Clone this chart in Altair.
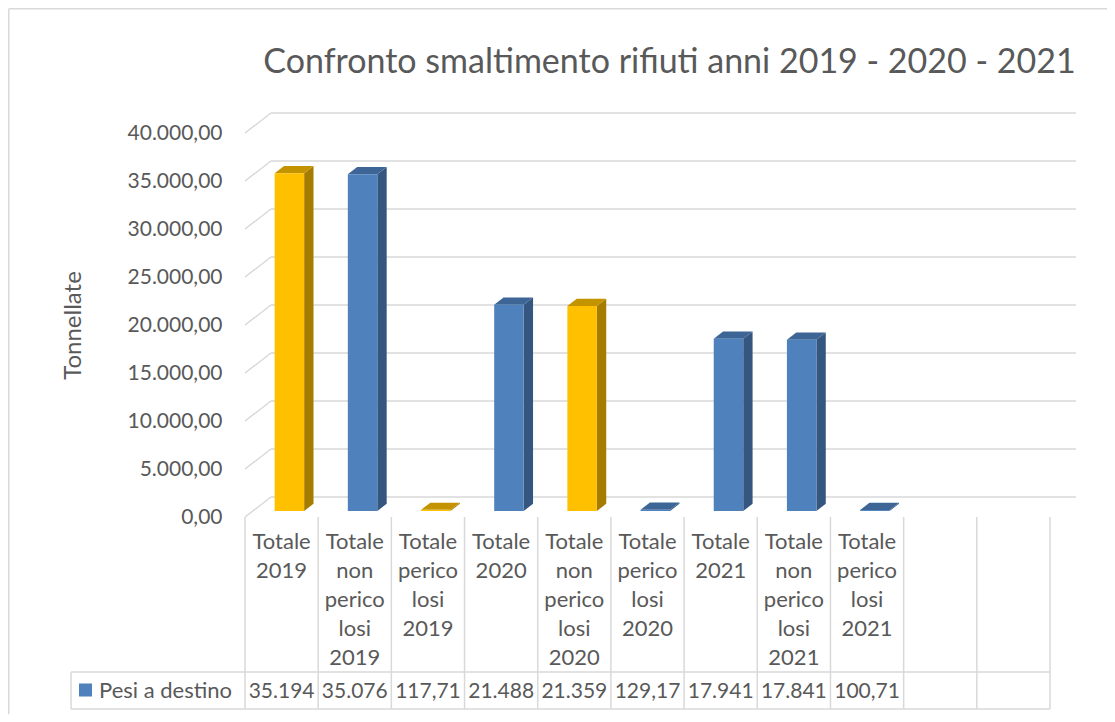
import altair as alt
import pandas as pd

# ---------------- data ----------------
title_text = "Confronto smaltimento rifiuti anni 2019 - 2020 - 2021"
axis_title = "Tonnellate"
series_name = "Pesi a destino"
categories = [
    ["Totale", "2019"],
    ["Totale", "non", "perico", "losi", "2019"],
    ["Totale", "perico", "losi", "2019"],
    ["Totale", "2020"],
    ["Totale", "non", "perico", "losi", "2020"],
    ["Totale", "perico", "losi", "2020"],
    ["Totale", "2021"],
    ["Totale", "non", "perico", "losi", "2021"],
    ["Totale", "perico", "losi", "2021"],
]
values = [35194, 35076, 117.71, 21488, 21359, 129.17, 17941, 17841, 100.71]
tones = ["giallo", "blu", "giallo", "blu", "giallo", "blu", "blu", "blu", "blu"]
n_columns = 11
y_ticks = [0, 5000, 10000, 15000, 20000, 25000, 30000, 35000, 40000]
YMAX = 40000

# ---------------- style ----------------
FONT = "Lato"
TXT = "#595959"
GRID = "#D9D9D9"
front_col = {"giallo": "#FFC000", "blu": "#4F81BD"}
side_col = {"giallo": "#A67C00", "blu": "#34567F"}
top_col = {"giallo": "#C49400", "blu": "#3D6696"}

PLOT_W, PLOT_H = 805, 384
PAD = {"left": 237, "top": 125, "right": 57, "bottom": 197}
ORIGIN_X = 8 + PAD["left"]
ORIGIN_Y = 8 + PAD["top"]
col_px = PLOT_W / n_columns
unit_px = PLOT_H / YMAX


def cx(page_x):
    return (page_x - ORIGIN_X) / col_px


def py(page_y):
    return page_y - ORIGIN_Y


DX = 26 / col_px        # wall depth (x, in column units)
DY = 20 / unit_px       # wall depth (y, in value units)
FRONT = 0.3
DEPTH = 0.36
BW = 29.5 / col_px

XS = alt.Scale(domain=[0, n_columns], nice=False, zero=False)
YS = alt.Scale(domain=[0, YMAX], nice=False, zero=False)

Y_AXIS = alt.Axis(
    values=y_ticks,
    labelExpr="datum.value == 0 ? '0,00' : format(datum.value / 1000, '.3f') + ',00'",
    ticks=False, domain=False, grid=False, labelOverlap=False,
    labelFont=FONT, labelFontSize=21, labelColor=TXT, labelPadding=23,
    title=axis_title, titleFont=FONT, titleFontSize=24, titleFontWeight="normal",
    titleColor=TXT, titleX=-172, titleY=192, titleAngle=270,
    titleAlign="center", titleBaseline="middle",
)


def it_fmt(v):
    if v >= 1000:
        return f"{v:,.0f}".replace(",", ".")
    return f"{v:.2f}".replace(".", ",")


# ---------------- tables ----------------
front_rows, side_rows, top_rows = [], [], []
for i, (v, t) in enumerate(zip(values, tones)):
    c = i + 0.5 + FRONT * DX
    x0, x1 = c - BW / 2, c + BW / 2
    yb, yt = FRONT * DY, v + FRONT * DY
    front_rows.append({"bar": i, "x0": x0, "x1": x1, "yb": yb, "yt": yt, "c": front_col[t]})
    side_rows.append({"bar": i, "x": x1, "y": yb, "y2": yt, "c": side_col[t]})
    side_rows.append({"bar": i, "x": x1 + DEPTH * DX, "y": yb + DEPTH * DY,
                      "y2": yt + DEPTH * DY, "c": side_col[t]})
    top_rows.append({"bar": i, "y": yt, "x": x0, "x2": x1, "c": top_col[t]})
    top_rows.append({"bar": i, "y": yt + DEPTH * DY, "x": x0 + DEPTH * DX,
                     "x2": x1 + DEPTH * DX, "c": top_col[t]})
front_df = pd.DataFrame(front_rows)
side_df = pd.DataFrame(side_rows)
top_df = pd.DataFrame(top_rows)

grid_df = pd.DataFrame({"v": y_ticks})
grid_df["vb"] = grid_df["v"] + DY
grid_df["x0"] = 0.0
grid_df["xa"] = DX
grid_df["xb"] = n_columns + DX

table_df = pd.DataFrame({
    "xc": [i + 0.5 for i in range(len(categories))],
    "label": ["\n".join(c) for c in categories],
    "val": [it_fmt(v) for v in values],
})
cols_df = pd.DataFrame({"xs": list(range(n_columns + 1))})


def one(**kw):
    return pd.DataFrame([kw])


def Y(field, **kw):
    return alt.Y(field, scale=YS, axis=Y_AXIS, **kw)


def X(field, **kw):
    return alt.X(field, scale=XS, axis=None, **kw)


# ---------------- layers ----------------
back_grid = alt.Chart(grid_df).mark_rule(color=GRID, strokeWidth=1.5).encode(
    x=X("xa:Q"), x2="xb:Q", y=Y("vb:Q"),
)
wall_grid = alt.Chart(grid_df).mark_rule(color=GRID, strokeWidth=1.5).encode(
    x=X("x0:Q"), x2="xa:Q", y=Y("v:Q"), y2="vb:Q",
)

sides = alt.Chart(side_df).mark_area(orient="vertical").encode(
    x=X("x:Q"), y=Y("y:Q", stack=None), y2="y2:Q",
    detail="bar:N", color=alt.Color("c:N", scale=None),
)
tops = alt.Chart(top_df).mark_area(orient="horizontal").encode(
    y=Y("y:Q", stack=None), x=X("x:Q", stack=None), x2="x2:Q",
    detail="bar:N", color=alt.Color("c:N", scale=None),
)
fronts = alt.Chart(front_df).mark_rect().encode(
    x=X("x0:Q"), x2="x1:Q", y=Y("yb:Q"), y2="yt:Q",
    color=alt.Color("c:N", scale=None),
)

# data table
line_kw = dict(color=GRID, strokeWidth=1.5)
col_lines = alt.Chart(cols_df).mark_rule(**line_kw).encode(
    x=X("xs:Q"), y=alt.value(py(517)), y2=alt.value(py(709)),
)
row_line = alt.Chart(one(xa=cx(71), xb=n_columns)).mark_rule(**line_kw).encode(
    x=X("xa:Q"), x2="xb:Q", y=alt.value(py(672)),
)
bottom_line = alt.Chart(one(xa=cx(71), xb=n_columns)).mark_rule(**line_kw).encode(
    x=X("xa:Q"), x2="xb:Q", y=alt.value(py(709)),
)
legend_left = alt.Chart(one(xa=cx(71))).mark_rule(**line_kw).encode(
    x=X("xa:Q"), y=alt.value(py(672)), y2=alt.value(py(709)),
)
header_text = alt.Chart(table_df).mark_text(
    font=FONT, fontSize=22, color=TXT, align="center", baseline="alphabetic",
    lineBreak="\n", lineHeight=29,
).encode(
    x=X("xc:Q"), y=alt.value(py(549)), text="label:N",
)
value_text = alt.Chart(table_df).mark_text(
    font=FONT, fontSize=21, color=TXT, align="center", baseline="alphabetic",
).encode(
    x=X("xc:Q"), y=alt.value(py(698)), text="val:N",
)
legend_key = alt.Chart(one(xa=cx(85.5))).mark_square(
    size=169, color=front_col["blu"], opacity=1, filled=True,
).encode(
    x=X("xa:Q"), y=alt.value(py(690)),
)
legend_text = alt.Chart(one(xa=cx(99), t=series_name)).mark_text(
    font=FONT, fontSize=22, color=TXT, align="left", baseline="alphabetic",
).encode(
    x=X("xa:Q"), y=alt.value(py(698)), text="t:N",
)

# chart title and outer frame
title_mark = alt.Chart(one(xa=cx(669.5), t=title_text)).mark_text(
    font=FONT, fontSize=34, color=TXT, align="center", baseline="alphabetic",
).encode(
    x=X("xa:Q"), y=alt.value(py(72.5)), text="t:N",
)
frame_left = alt.Chart(one(xa=cx(8.75))).mark_rule(**line_kw).encode(
    x=X("xa:Q"), y=alt.value(py(8.75)), y2=alt.value(py(730)),
)
frame_top = alt.Chart(one(xa=cx(8.75), xb=cx(1130))).mark_rule(**line_kw).encode(
    x=X("xa:Q"), x2="xb:Q", y=alt.value(py(8.75)),
)

chart = alt.layer(
    frame_left, frame_top, title_mark,
    back_grid, wall_grid,
    sides, tops, fronts,
    col_lines, row_line, bottom_line, legend_left,
    header_text, value_text, legend_key, legend_text,
).properties(
    width=PLOT_W, height=PLOT_H,
    autosize=alt.AutoSizeParams(type="none"),
    padding=PAD,
).configure_view(
    stroke=None
).configure_axisY(
    titleFont=FONT, titleFontSize=24, titleFontWeight="normal", titleColor=TXT,
)

chart.save("out.html", embed_options={"renderer": "svg", "actions": False})
